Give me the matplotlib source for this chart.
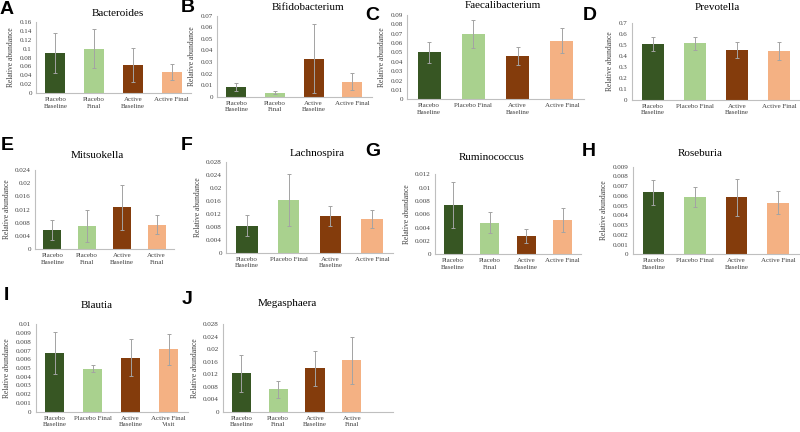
import numpy as np
import matplotlib
matplotlib.use("Agg")
import matplotlib.pyplot as plt

plt.rcParams['font.family'] = ['Liberation Serif', 'DejaVu Serif']

W, H = 800, 432

# data (means and +/- error)
groups = ["Placebo Baseline", "Placebo Final", "Active Baseline", "Active Final"]
colors = ["#375623", "#a9d18e", "#843c0c", "#f4b183"]

bacteroides = [0.090, 0.100, 0.0625, 0.047]
bacteroides_err = [0.044, 0.044, 0.038, 0.018]
bifido = [0.0081, 0.0035, 0.0328, 0.013]
bifido_err = [0.0035, 0.0015, 0.030, 0.0072]
faecali = [0.0502, 0.0694, 0.0462, 0.0626]
faecali_err = [0.011, 0.0148, 0.0093, 0.013]
prevotella = [0.504, 0.513, 0.453, 0.444]
prevotella_err = [0.063, 0.057, 0.072, 0.080]
mitsuokella = [0.0059, 0.0071, 0.0127, 0.0074]
mitsuokella_err = [0.0031, 0.0049, 0.0068, 0.0029]
lachnospira = [0.0083, 0.0162, 0.0113, 0.0103]
lachnospira_err = [0.0033, 0.0080, 0.0030, 0.0028]
rumino = [0.0074, 0.00475, 0.00275, 0.00515]
rumino_err = [0.0034, 0.0016, 0.0011, 0.0018]
roseburia = [0.00637, 0.0059, 0.00585, 0.0053]
roseburia_err = [0.0013, 0.0010, 0.0019, 0.0012]
blautia = [0.00668, 0.00489, 0.00618, 0.00714]
blautia_err = [0.0024, 0.0004, 0.0021, 0.0018]
megasphaera = [0.0122, 0.0071, 0.0138, 0.0165]
megasphaera_err = [0.0059, 0.0026, 0.0057, 0.0075]

labels_a = ["Placebo\nBaseline", "Placebo\nFinal", "Active\nBaseline", "Active Final"]
labels_c = ["Placebo\nBaseline", "Placebo Final", "Active\nBaseline", "Active Final"]
labels_e = ["Placebo\nBaseline", "Placebo\nFinal", "Active\nBaseline", "Active\nFinal"]
labels_i = ["Placebo\nBaseline", "Placebo Final", "Active\nBaseline", "Active Final\nVisit"]

# letter, title, values, err, labels, ymax, ystep, (left, right, top, bottom) in px, title pos, letter pos, xmax
panels = [
    ("A", "Bacteroides", bacteroides, bacteroides_err, labels_a, 0.16, 0.02,
     (36, 191, 21.7, 93.3), (118, 13), (7, 9), 3.5),
    ("B", "Bifidobacterium", bifido, bifido_err, labels_a, 0.07, 0.01,
     (217, 371.5, 15.7, 96.7), (308, 7), (188, 8), 3.5),
    ("C", "Faecalibacterium", faecali, faecali_err, labels_c, 0.09, 0.01,
     (407, 584, 15, 99.3), (503, 5), (372, 16), 3.5),
    ("D", "Prevotella", prevotella, prevotella_err, labels_c, 0.7, 0.1,
     (631.5, 800, 22.7, 100), (717, 8), (590, 15), 3.5),
    ("E", "Mitsuokella", mitsuokella, mitsuokella_err, labels_e, 0.024, 0.004,
     (35, 174, 170, 249.3), (97, 155), (7, 145), 3.5),
    ("F", "Lachnospira", lachnospira, lachnospira_err, labels_c, 0.028, 0.004,
     (226, 393, 161.7, 252.7), (317, 153), (187, 145), 3.5),
    ("G", "Ruminococcus", rumino, rumino_err, labels_a, 0.012, 0.002,
     (435, 581, 174.3, 254.3), (492, 157), (373, 152), 3.5),
    ("H", "Roseburia", roseburia, roseburia_err, labels_c, 0.009, 0.001,
     (632.7, 799, 166.7, 254.3), (700, 154), (589, 151), 3.5),
    ("I", "Blautia", blautia, blautia_err, labels_i, 0.01, 0.001,
     (35.5, 187.5, 324.3, 411.7), (97, 305), (6, 296), 3.5),
    ("J", "Megasphaera", megasphaera, megasphaera_err, labels_e, 0.028, 0.004,
     (223, 392.7, 324, 411.7), (287, 303), (187, 300), 4.11),
]

fig = plt.figure(figsize=(W / 100, H / 100), dpi=100)

def fmt(v):
    s = ("%.4f" % v).rstrip("0").rstrip(".")
    return s

for letter, title, vals, errs, labels, ymax, ystep, box, tpos, lpos, xmax in panels:
    l, r, t, b = box
    ax = fig.add_axes([l / W, 1 - b / H, (r - l) / W, (b - t) / H])
    x = np.arange(len(vals))
    ax.bar(x, vals, width=0.52, color=colors)
    ax.errorbar(x, vals, yerr=errs, fmt="none", ecolor="#a3a3a3",
                elinewidth=0.7, capsize=1.6, capthick=0.7)
    ax.set_xlim(-0.5, xmax)
    ax.set_ylim(0, ymax)
    ticks = np.arange(0, ymax + ystep / 2, ystep)
    ax.set_yticks(ticks)
    ax.set_yticklabels([fmt(v) for v in ticks])
    ax.set_xticks(x)
    ax.set_xticklabels(labels, linespacing=1.3)
    ax.tick_params(length=0, labelsize=5, pad=3, colors="#404040")
    for s in ["top", "right"]:
        ax.spines[s].set_visible(False)
    for s in ["left", "bottom"]:
        ax.spines[s].set_color("#bfbfbf")
        ax.spines[s].set_linewidth(0.8)
    ax.set_ylabel("Relative abundance", fontsize=5.5, labelpad=3, color="#404040")
    fig.text(tpos[0] / W, 1 - tpos[1] / H, title, ha="center", va="center", fontsize=8)
    fig.text(lpos[0] / W, 1 - lpos[1] / H, letter, ha="center", va="center",
             fontsize=14, fontweight="bold", family=["Liberation Sans", "DejaVu Sans"])

fig.savefig("out.png", dpi=100)
